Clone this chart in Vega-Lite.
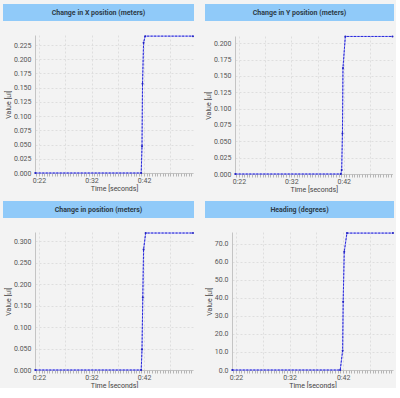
{
  "$schema": "https://vega.github.io/schema/vega-lite/v6.json",
  "background": "#f3f3f3",
  "padding": {"left": 3, "top": 4, "right": 0, "bottom": 0},
  "datasets": {
    "series": [
      {"panel": "x", "t": 21.3, "v": 0}, {"panel": "x", "t": 41.45, "v": 0}, {"panel": "x", "t": 41.6, "v": 0.047}, {"panel": "x", "t": 41.7, "v": 0.157}, {"panel": "x", "t": 41.9, "v": 0.229}, {"panel": "x", "t": 42.2, "v": 0.2407}, {"panel": "x", "t": 51.3, "v": 0.2407},
      {"panel": "y", "t": 21.3, "v": 0}, {"panel": "y", "t": 41.45, "v": 0}, {"panel": "y", "t": 41.6, "v": 0.006}, {"panel": "y", "t": 41.75, "v": 0.062}, {"panel": "y", "t": 41.85, "v": 0.162}, {"panel": "y", "t": 42.3, "v": 0.2103}, {"panel": "y", "t": 51.3, "v": 0.2103},
      {"panel": "p", "t": 21.3, "v": 0}, {"panel": "p", "t": 41.45, "v": 0}, {"panel": "p", "t": 41.6, "v": 0.048}, {"panel": "p", "t": 41.75, "v": 0.169}, {"panel": "p", "t": 41.9, "v": 0.281}, {"panel": "p", "t": 42.3, "v": 0.3196}, {"panel": "p", "t": 51.3, "v": 0.3196},
      {"panel": "h", "t": 21.3, "v": 0}, {"panel": "h", "t": 41.45, "v": 0}, {"panel": "h", "t": 41.9, "v": 10.7}, {"panel": "h", "t": 42.0, "v": 37.9}, {"panel": "h", "t": 42.2, "v": 65.5}, {"panel": "h", "t": 42.7, "v": 75.9}, {"panel": "h", "t": 51.3, "v": 75.9}
    ]
  },
  "columns": 2,
  "spacing": {"row": 9, "column": 8},
  "concat": [
    {
      "spacing": 12,
      "vconcat": [
        {"width": 191, "height": 17, "view": {"fill": "#90CAF9", "stroke": null},
         "data": {"values": [{"title": "Change in X position (meters)"}]},
         "mark": {"type": "text", "font": "Roboto", "fontSize": 7, "fontWeight": "bold", "color": "#2d3b48"},
         "encoding": {"text": {"field": "title"}}},
        {"width": 191, "height": 138,
         "data": {"name": "series"},
         "transform": [{"filter": "datum.panel == 'x'"}],
         "resolve": {"axis": {"x": "independent"}},
         "encoding": {
           "x": {"field": "t", "type": "quantitative", "scale": {"domain": [21.25, 51.3], "range": [32, 190], "nice": false, "zero": false}},
           "y": {"field": "v", "type": "quantitative", "scale": {"domain": [0, 0.2427], "nice": false}, "axis": {"title": "Value [ul]", "offset": -32, "values": [0, 0.025, 0.05, 0.075, 0.1, 0.125, 0.15, 0.175, 0.2, 0.225], "format": ".3f"}}
         },
         "layer": [
           {"mark": {"type": "line", "color": "#8c8cf4", "strokeWidth": 1},
            "encoding": {"x": {"field": "t", "type": "quantitative", "axis": {"orient": "bottom", "title": "Time [seconds]", "values": [22, 27, 32, 37, 42, 47], "labelExpr": "datum.value % 10 == 2 ? '0:' + datum.value : ''"}}}},
           {"mark": {"type": "line", "color": "#2a2ad8", "strokeWidth": 1, "strokeDash": [2, 1.5]},
            "encoding": {"x": {"field": "t", "type": "quantitative", "axis": null}}},
           {"mark": {"type": "point", "filled": true, "color": "#2020c0", "size": 4, "opacity": 1},
            "encoding": {"x": {"field": "t", "type": "quantitative", "axis": null}}},
           {"mark": {"type": "point", "opacity": 0},
            "encoding": {"x": {"field": "t", "type": "quantitative", "axis": {"orient": "bottom", "title": null, "labels": false, "grid": false, "domain": false, "ticks": true, "tickSize": 3, "tickColor": "#b5b5b5", "values": [21.5,22,22.5,23,23.5,24,24.5,25,25.5,26,26.5,27,27.5,28,28.5,29,29.5,30,30.5,31,31.5,32,32.5,33,33.5,34,34.5,35,35.5,36,36.5,37,37.5,38,38.5,39,39.5,40,40.5,41,41.5,42,42.5,43,43.5,44,44.5,45,45.5,46,46.5,47,47.5,48,48.5,49,49.5,50,50.5,51]}}}}
         ]}
      ]
    },
    {
      "spacing": 12,
      "vconcat": [
        {"width": 189, "height": 17, "view": {"fill": "#90CAF9", "stroke": null},
         "data": {"values": [{"title": "Change in Y position (meters)"}]},
         "mark": {"type": "text", "font": "Roboto", "fontSize": 7, "fontWeight": "bold", "color": "#2d3b48"},
         "encoding": {"text": {"field": "title"}}},
        {"width": 189, "height": 138,
         "data": {"name": "series"},
         "transform": [{"filter": "datum.panel == 'y'"}],
         "resolve": {"axis": {"x": "independent"}},
         "encoding": {
           "x": {"field": "t", "type": "quantitative", "scale": {"domain": [21.25, 51.3], "range": [30, 187.5], "nice": false, "zero": false}},
           "y": {"field": "v", "type": "quantitative", "scale": {"domain": [0, 0.211], "nice": false}, "axis": {"title": "Value [ul]", "offset": -30, "values": [0, 0.025, 0.05, 0.075, 0.1, 0.125, 0.15, 0.175, 0.2], "format": ".3f"}}
         },
         "layer": [
           {"mark": {"type": "line", "color": "#8c8cf4", "strokeWidth": 1},
            "encoding": {"x": {"field": "t", "type": "quantitative", "axis": {"orient": "bottom", "title": "Time [seconds]", "values": [22, 27, 32, 37, 42, 47], "labelExpr": "datum.value % 10 == 2 ? '0:' + datum.value : ''"}}}},
           {"mark": {"type": "line", "color": "#2a2ad8", "strokeWidth": 1, "strokeDash": [2, 1.5]},
            "encoding": {"x": {"field": "t", "type": "quantitative", "axis": null}}},
           {"mark": {"type": "point", "filled": true, "color": "#2020c0", "size": 4, "opacity": 1},
            "encoding": {"x": {"field": "t", "type": "quantitative", "axis": null}}},
           {"mark": {"type": "point", "opacity": 0},
            "encoding": {"x": {"field": "t", "type": "quantitative", "axis": {"orient": "bottom", "title": null, "labels": false, "grid": false, "domain": false, "ticks": true, "tickSize": 3, "tickColor": "#b5b5b5", "values": [21.5,22,22.5,23,23.5,24,24.5,25,25.5,26,26.5,27,27.5,28,28.5,29,29.5,30,30.5,31,31.5,32,32.5,33,33.5,34,34.5,35,35.5,36,36.5,37,37.5,38,38.5,39,39.5,40,40.5,41,41.5,42,42.5,43,43.5,44,44.5,45,45.5,46,46.5,47,47.5,48,48.5,49,49.5,50,50.5,51]}}}}
         ]}
      ]
    },
    {
      "spacing": 12,
      "vconcat": [
        {"width": 191, "height": 17, "view": {"fill": "#90CAF9", "stroke": null},
         "data": {"values": [{"title": "Change in position (meters)"}]},
         "mark": {"type": "text", "font": "Roboto", "fontSize": 7, "fontWeight": "bold", "color": "#2d3b48"},
         "encoding": {"text": {"field": "title"}}},
        {"width": 191, "height": 138,
         "data": {"name": "series"},
         "transform": [{"filter": "datum.panel == 'p'"}],
         "resolve": {"axis": {"x": "independent"}},
         "encoding": {
           "x": {"field": "t", "type": "quantitative", "scale": {"domain": [21.25, 51.3], "range": [32, 190], "nice": false, "zero": false}},
           "y": {"field": "v", "type": "quantitative", "scale": {"domain": [0, 0.322], "nice": false}, "axis": {"title": "Value [ul]", "offset": -32, "values": [0, 0.05, 0.1, 0.15, 0.2, 0.25, 0.3], "format": ".3f"}}
         },
         "layer": [
           {"mark": {"type": "line", "color": "#8c8cf4", "strokeWidth": 1},
            "encoding": {"x": {"field": "t", "type": "quantitative", "axis": {"orient": "bottom", "title": "Time [seconds]", "values": [22, 27, 32, 37, 42, 47], "labelExpr": "datum.value % 10 == 2 ? '0:' + datum.value : ''"}}}},
           {"mark": {"type": "line", "color": "#2a2ad8", "strokeWidth": 1, "strokeDash": [2, 1.5]},
            "encoding": {"x": {"field": "t", "type": "quantitative", "axis": null}}},
           {"mark": {"type": "point", "filled": true, "color": "#2020c0", "size": 4, "opacity": 1},
            "encoding": {"x": {"field": "t", "type": "quantitative", "axis": null}}},
           {"mark": {"type": "point", "opacity": 0},
            "encoding": {"x": {"field": "t", "type": "quantitative", "axis": {"orient": "bottom", "title": null, "labels": false, "grid": false, "domain": false, "ticks": true, "tickSize": 3, "tickColor": "#b5b5b5", "values": [21.5,22,22.5,23,23.5,24,24.5,25,25.5,26,26.5,27,27.5,28,28.5,29,29.5,30,30.5,31,31.5,32,32.5,33,33.5,34,34.5,35,35.5,36,36.5,37,37.5,38,38.5,39,39.5,40,40.5,41,41.5,42,42.5,43,43.5,44,44.5,45,45.5,46,46.5,47,47.5,48,48.5,49,49.5,50,50.5,51]}}}}
         ]}
      ]
    },
    {
      "spacing": 12,
      "vconcat": [
        {"width": 189, "height": 17, "view": {"fill": "#90CAF9", "stroke": null},
         "data": {"values": [{"title": "Heading (degrees)"}]},
         "mark": {"type": "text", "font": "Roboto", "fontSize": 7, "fontWeight": "bold", "color": "#2d3b48"},
         "encoding": {"text": {"field": "title"}}},
        {"width": 189, "height": 138,
         "data": {"name": "series"},
         "transform": [{"filter": "datum.panel == 'h'"}],
         "resolve": {"axis": {"x": "independent"}},
         "encoding": {
           "x": {"field": "t", "type": "quantitative", "scale": {"domain": [21.25, 51.3], "range": [27, 188], "nice": false, "zero": false}},
           "y": {"field": "v", "type": "quantitative", "scale": {"domain": [0, 76.5], "nice": false}, "axis": {"title": "Value [ul]", "offset": -27, "values": [0, 10, 20, 30, 40, 50, 60, 70], "format": ".1f"}}
         },
         "layer": [
           {"mark": {"type": "line", "color": "#8c8cf4", "strokeWidth": 1},
            "encoding": {"x": {"field": "t", "type": "quantitative", "axis": {"orient": "bottom", "title": "Time [seconds]", "values": [22, 27, 32, 37, 42, 47], "labelExpr": "datum.value % 10 == 2 ? '0:' + datum.value : ''"}}}},
           {"mark": {"type": "line", "color": "#2a2ad8", "strokeWidth": 1, "strokeDash": [2, 1.5]},
            "encoding": {"x": {"field": "t", "type": "quantitative", "axis": null}}},
           {"mark": {"type": "point", "filled": true, "color": "#2020c0", "size": 4, "opacity": 1},
            "encoding": {"x": {"field": "t", "type": "quantitative", "axis": null}}},
           {"mark": {"type": "point", "opacity": 0},
            "encoding": {"x": {"field": "t", "type": "quantitative", "axis": {"orient": "bottom", "title": null, "labels": false, "grid": false, "domain": false, "ticks": true, "tickSize": 3, "tickColor": "#b5b5b5", "values": [21.5,22,22.5,23,23.5,24,24.5,25,25.5,26,26.5,27,27.5,28,28.5,29,29.5,30,30.5,31,31.5,32,32.5,33,33.5,34,34.5,35,35.5,36,36.5,37,37.5,38,38.5,39,39.5,40,40.5,41,41.5,42,42.5,43,43.5,44,44.5,45,45.5,46,46.5,47,47.5,48,48.5,49,49.5,50,50.5,51]}}}}
         ]}
      ]
    }
  ],
  "config": {
    "font": "Roboto",
    "view": {"stroke": null},
    "axis": {
      "labelFont": "Roboto", "labelFontSize": 7, "labelColor": "#555555",
      "titleFont": "Roboto", "titleFontSize": 7, "titleFontWeight": "normal", "titleColor": "#444444",
      "domainColor": "#c4c4c4", "gridColor": "#dedede", "gridDash": [2, 2],
      "ticks": false, "labelPadding": 4, "titlePadding": 2
    },
    "axisX": {"labelPadding": 3, "titlePadding": 1}
  }
}
